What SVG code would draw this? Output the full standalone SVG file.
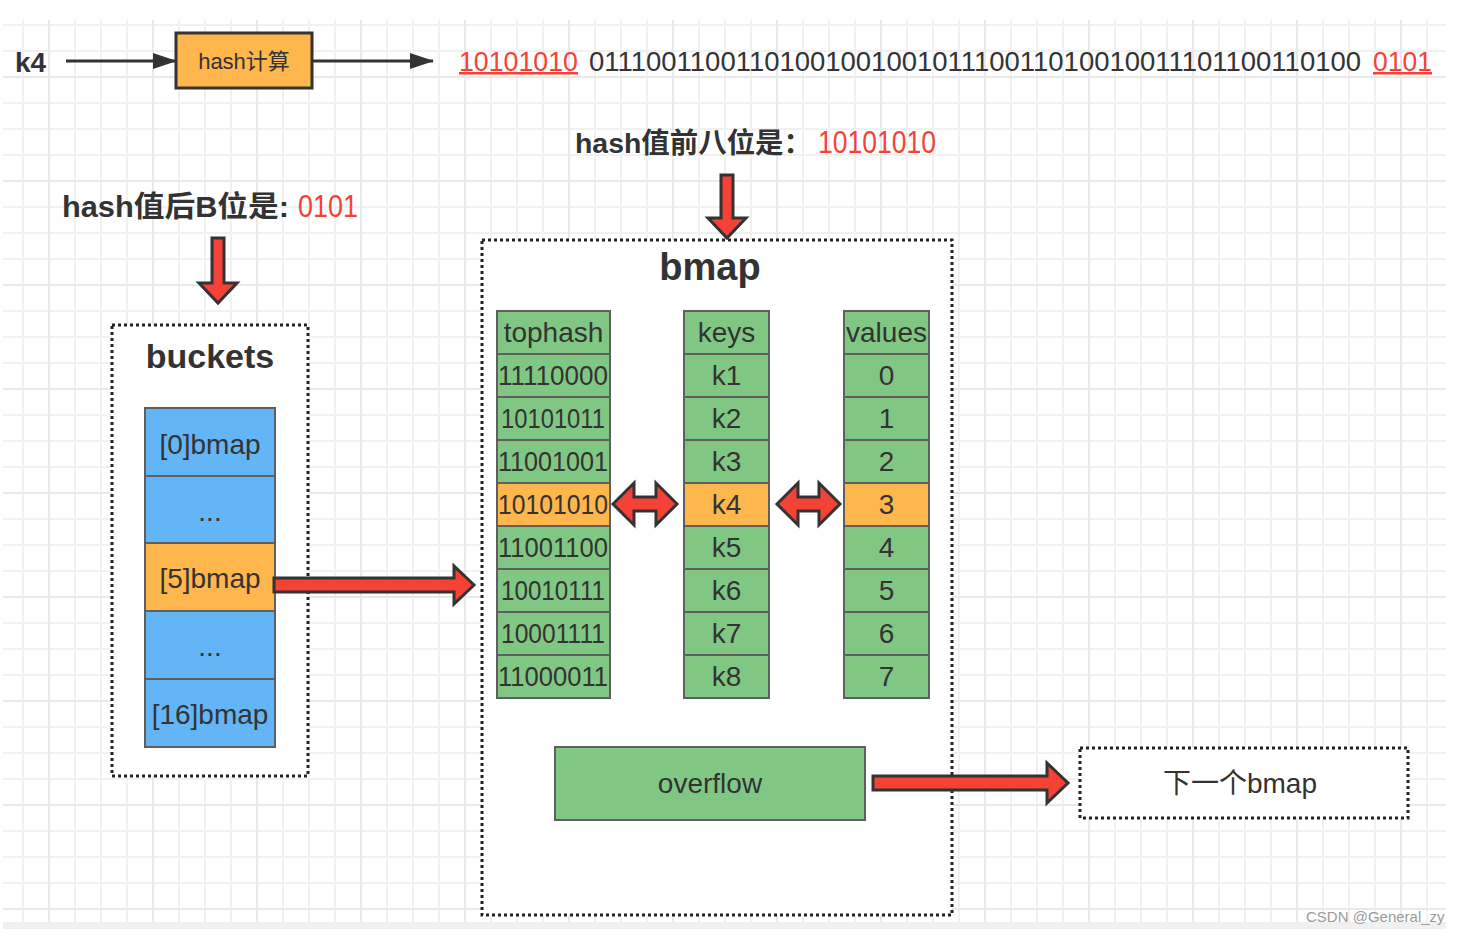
<svg xmlns="http://www.w3.org/2000/svg" width="1459" height="934" viewBox="0 0 1459 934">
<defs>
<pattern id="grid" patternUnits="userSpaceOnUse" x="48" y="76" width="104" height="104">
<rect x="0" y="0" width="104" height="104" fill="#ffffff"/>
<rect x="26" y="0" width="2" height="104" fill="#f1f1f1"/>
<rect x="52" y="0" width="2" height="104" fill="#f1f1f1"/>
<rect x="78" y="0" width="2" height="104" fill="#f1f1f1"/>
<rect x="0" y="26" width="104" height="2" fill="#f1f1f1"/>
<rect x="0" y="52" width="104" height="2" fill="#f1f1f1"/>
<rect x="0" y="78" width="104" height="2" fill="#f1f1f1"/>
<rect x="0" y="0" width="2" height="104" fill="#e9e9e9"/>
<rect x="0" y="0" width="104" height="2" fill="#e9e9e9"/>
</pattern>
<marker id="tri" viewBox="0 0 24 16" refX="23" refY="8" markerWidth="24" markerHeight="16" markerUnits="userSpaceOnUse" orient="auto">
<path d="M0,0 L24,8 L0,16 Z" fill="#333333"/>
</marker>
</defs>
<style>
text{font-family:"Liberation Sans","Noto Sans CJK SC",sans-serif;fill:#333333}
.red{fill:#f44336}
.title{font-weight:bold}
.cell{stroke:#5f5f5f;stroke-width:2}
.g{fill:#81c784}
.b{fill:#64b5f6}
.o{fill:#ffb74d}
.ct{font-size:28px;text-anchor:middle}
.dot{fill:#ffffff;stroke:#222222;stroke-width:3;stroke-dasharray:3 3}
.blk{fill:#f44336;stroke:#333333;stroke-width:3;stroke-linejoin:miter}
.ln{stroke:#333333;stroke-width:3;fill:none}
</style>
<rect x="0" y="0" width="1459" height="934" fill="#ffffff"/>
<rect x="3" y="20" width="1443" height="902" fill="url(#grid)"/>
<rect x="3" y="922" width="1443" height="7" fill="#f0f0f0"/>

<g id="k4-label"><text x="15" y="72" font-size="28" class="title">k4</text></g>

<g id="hash-calc">
<rect x="176" y="33" width="136" height="55" fill="#ffb74d" stroke="#333333" stroke-width="3"/>
<text x="244" y="69" font-size="22" text-anchor="middle">hash计算</text>
</g>

<g id="hash-value">
<text x="459" y="71" font-size="27.5" class="red" textLength="119" lengthAdjust="spacingAndGlyphs">10101010</text>
<text x="589" y="71" font-size="27" textLength="772" lengthAdjust="spacingAndGlyphs">0111001100110100100100101110011010010011101100110100</text>
<text x="1373" y="71" font-size="27.5" class="red" textLength="59" lengthAdjust="spacingAndGlyphs">0101</text>
<rect x="459" y="72" width="119" height="2.5" fill="#f44336"/>
<rect x="1373" y="72" width="59" height="2.5" fill="#f44336"/>
</g>

<g id="label-top8">
<text x="575" y="153" font-size="28.5" class="title" textLength="237" lengthAdjust="spacingAndGlyphs">hash值前八位是：</text>
<text x="818" y="153" font-size="31" class="red" textLength="118" lengthAdjust="spacingAndGlyphs">10101010</text>
</g>

<g id="label-lowB">
<text x="62" y="217" font-size="29" class="title" textLength="227" lengthAdjust="spacingAndGlyphs">hash值后B位是:</text>
<text x="298" y="217" font-size="31" class="red" textLength="60" lengthAdjust="spacingAndGlyphs">0101</text>
</g>

<g id="buckets">
<rect x="112" y="325" width="196" height="451" class="dot"/>
<text x="210" y="368" font-size="34" class="title" text-anchor="middle">buckets</text>
<rect x="145" y="408" width="130" height="68" class="cell b"/>
<rect x="145" y="476" width="130" height="67" class="cell b"/>
<rect x="145" y="543" width="130" height="68" class="cell o"/>
<rect x="145" y="611" width="130" height="68" class="cell b"/>
<rect x="145" y="679" width="130" height="68" class="cell b"/>
<text x="210" y="454" class="ct">[0]bmap</text>
<text x="210" y="521" class="ct">...</text>
<text x="210" y="588" class="ct">[5]bmap</text>
<text x="210" y="656" class="ct">...</text>
<text x="210" y="724" class="ct">[16]bmap</text>
</g>

<g id="bmap">
<rect x="482" y="240" width="470" height="675" class="dot"/>
<text x="710" y="280" font-size="38" class="title" text-anchor="middle">bmap</text>
<g id="tophash">
<rect x="497" y="311" width="113" height="43" class="cell g"/>
<rect x="497" y="354" width="113" height="43" class="cell g"/>
<rect x="497" y="397" width="113" height="43" class="cell g"/>
<rect x="497" y="440" width="113" height="43" class="cell g"/>
<rect x="497" y="483" width="113" height="43" class="cell o"/>
<rect x="497" y="526" width="113" height="43" class="cell g"/>
<rect x="497" y="569" width="113" height="43" class="cell g"/>
<rect x="497" y="612" width="113" height="43" class="cell g"/>
<rect x="497" y="655" width="113" height="43" class="cell g"/>
<text x="553.5" y="342" class="ct">tophash</text>
<text x="498" y="385" font-size="28" textLength="110" lengthAdjust="spacingAndGlyphs">11110000</text>
<text x="501" y="428" font-size="28" textLength="104" lengthAdjust="spacingAndGlyphs">10101011</text>
<text x="498" y="471" font-size="28" textLength="110" lengthAdjust="spacingAndGlyphs">11001001</text>
<text x="498" y="514" font-size="28" textLength="110" lengthAdjust="spacingAndGlyphs">10101010</text>
<text x="498" y="557" font-size="28" textLength="110" lengthAdjust="spacingAndGlyphs">11001100</text>
<text x="501" y="600" font-size="28" textLength="104" lengthAdjust="spacingAndGlyphs">10010111</text>
<text x="501" y="643" font-size="28" textLength="104" lengthAdjust="spacingAndGlyphs">10001111</text>
<text x="498" y="686" font-size="28" textLength="110" lengthAdjust="spacingAndGlyphs">11000011</text>
</g>
<g id="keys">
<rect x="684" y="311" width="85" height="43" class="cell g"/>
<rect x="684" y="354" width="85" height="43" class="cell g"/>
<rect x="684" y="397" width="85" height="43" class="cell g"/>
<rect x="684" y="440" width="85" height="43" class="cell g"/>
<rect x="684" y="483" width="85" height="43" class="cell o"/>
<rect x="684" y="526" width="85" height="43" class="cell g"/>
<rect x="684" y="569" width="85" height="43" class="cell g"/>
<rect x="684" y="612" width="85" height="43" class="cell g"/>
<rect x="684" y="655" width="85" height="43" class="cell g"/>
<text x="726.5" y="342" class="ct">keys</text>
<text x="726.5" y="385" class="ct">k1</text>
<text x="726.5" y="428" class="ct">k2</text>
<text x="726.5" y="471" class="ct">k3</text>
<text x="726.5" y="514" class="ct">k4</text>
<text x="726.5" y="557" class="ct">k5</text>
<text x="726.5" y="600" class="ct">k6</text>
<text x="726.5" y="643" class="ct">k7</text>
<text x="726.5" y="686" class="ct">k8</text>
</g>
<g id="values">
<rect x="844" y="311" width="85" height="43" class="cell g"/>
<rect x="844" y="354" width="85" height="43" class="cell g"/>
<rect x="844" y="397" width="85" height="43" class="cell g"/>
<rect x="844" y="440" width="85" height="43" class="cell g"/>
<rect x="844" y="483" width="85" height="43" class="cell o"/>
<rect x="844" y="526" width="85" height="43" class="cell g"/>
<rect x="844" y="569" width="85" height="43" class="cell g"/>
<rect x="844" y="612" width="85" height="43" class="cell g"/>
<rect x="844" y="655" width="85" height="43" class="cell g"/>
<text x="886.5" y="342" class="ct">values</text>
<text x="886.5" y="385" class="ct">0</text>
<text x="886.5" y="428" class="ct">1</text>
<text x="886.5" y="471" class="ct">2</text>
<text x="886.5" y="514" class="ct">3</text>
<text x="886.5" y="557" class="ct">4</text>
<text x="886.5" y="600" class="ct">5</text>
<text x="886.5" y="643" class="ct">6</text>
<text x="886.5" y="686" class="ct">7</text>
</g>
<g id="overflow">
<rect x="555" y="747" width="310" height="73" class="cell g"/>
<text x="710" y="793" class="ct">overflow</text>
</g>
</g>

<g id="next-bmap">
<rect x="1080" y="748" width="328" height="70" class="dot"/>
<text x="1240" y="793" class="ct">下一个bmap</text>
</g>

<g id="connectors">
<line x1="66" y1="61" x2="176" y2="61" class="ln" marker-end="url(#tri)"/>
<line x1="312" y1="61" x2="433" y2="61" class="ln" marker-end="url(#tri)"/>
<path d="M212,238 H224 V283 H237 L218,303 L199,283 H212 Z" class="blk"/>
<path d="M721,175 H733 V218 H746 L727,238 L708,218 H721 Z" class="blk"/>
<path d="M274,578 H454 V566 L474,585 L454,604 V592 H274 Z" class="blk"/>
<path d="M613,504 L634,483 V497 H656 V483 L677,504 L656,525 V511 H634 V525 Z" class="blk"/>
<path d="M777,504 L798,483 V497 H819 V483 L840,504 L819,525 V511 H798 V525 Z" class="blk"/>
<path d="M873,776 H1047 V763 L1068,783 L1047,803 V790 H873 Z" class="blk"/>
</g>

<g id="watermark"><text x="1306" y="922" font-size="15" style="fill:#9a9a9a">CSDN @General_zy</text></g>
</svg>
